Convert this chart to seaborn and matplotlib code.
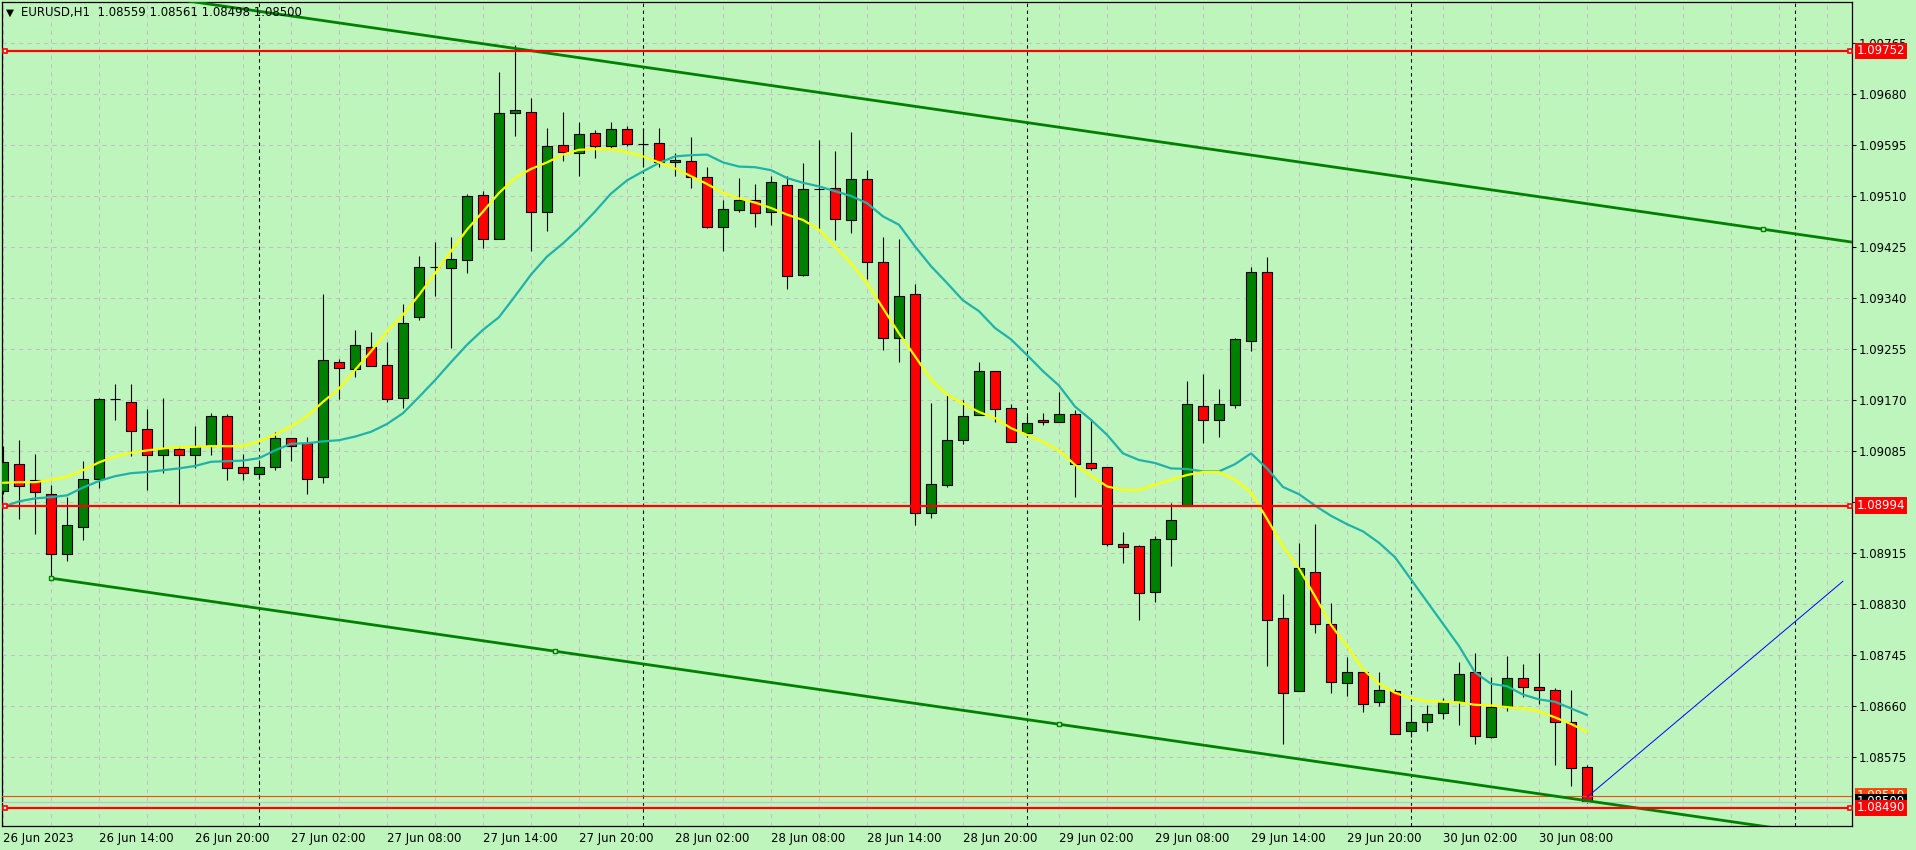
import matplotlib
matplotlib.use("Agg")
import matplotlib.pyplot as plt
import matplotlib.transforms as mtransforms
import seaborn as sns
import numpy as np
import pandas as pd

# EURUSD H1 candles, 26 Jun 2023 08:00 .. 30 Jun 2023 11:00
opens = [1.09018, 1.09063, 1.09037, 1.09014, 1.08913, 1.08959, 1.09038, 1.09171, 1.09166, 1.09121,
         1.09079, 1.09088, 1.09079, 1.09094, 1.09143, 1.09058, 1.09046, 1.09059, 1.09106, 1.09098,
         1.09041, 1.09234, 1.09221, 1.09258, 1.09228, 1.09173, 1.09308, 1.09391, 1.09390, 1.09403,
         1.09511, 1.09439, 1.09648, 1.09650, 1.09484, 1.09595, 1.09581, 1.09615, 1.09593, 1.09621,
         1.09596, 1.09598, 1.09566, 1.09568, 1.09541, 1.09458, 1.09486, 1.09503, 1.09483, 1.09528,
         1.09378, 1.09522, 1.09523, 1.09470, 1.09538, 1.09400, 1.09273, 1.09346, 1.08981, 1.09028,
         1.09103, 1.09145, 1.09218, 1.09156, 1.09115, 1.09136, 1.09133, 1.09146, 1.09065, 1.09058,
         1.08930, 1.08926, 1.08850, 1.08938, 1.08994, 1.09160, 1.09137, 1.09162, 1.09269, 1.09383,
         1.08807, 1.08685, 1.08884, 1.08797, 1.08699, 1.08717, 1.08666, 1.08685, 1.08619, 1.08634,
         1.08648, 1.08667, 1.08716, 1.08608, 1.08659, 1.08707, 1.08692, 1.08687, 1.08633, 1.08559]
highs = [1.09093, 1.09103, 1.09080, 1.09028, 1.09009, 1.09068, 1.09173, 1.09197, 1.09197, 1.09155,
         1.09173, 1.09094, 1.09127, 1.09148, 1.09146, 1.09080, 1.09070, 1.09116, 1.09106, 1.09108,
         1.09347, 1.09238, 1.09287, 1.09283, 1.09267, 1.09330, 1.09410, 1.09434, 1.09441, 1.09513,
         1.09518, 1.09717, 1.09762, 1.09673, 1.09623, 1.09650, 1.09634, 1.09620, 1.09634, 1.09626,
         1.09623, 1.09623, 1.09581, 1.09609, 1.09559, 1.09503, 1.09540, 1.09530, 1.09544, 1.09544,
         1.09565, 1.09603, 1.09585, 1.09617, 1.09553, 1.09442, 1.09439, 1.09364, 1.09165, 1.09179,
         1.09170, 1.09234, 1.09218, 1.09164, 1.09143, 1.09149, 1.09184, 1.09154, 1.09139, 1.09058,
         1.08950, 1.08928, 1.08943, 1.08998, 1.09201, 1.09213, 1.09188, 1.09273, 1.09392, 1.09409,
         1.08846, 1.08932, 1.08963, 1.08831, 1.08742, 1.08717, 1.08716, 1.08689, 1.08662, 1.08662,
         1.08674, 1.08733, 1.08748, 1.08708, 1.08744, 1.08730, 1.08749, 1.08690, 1.08687, 1.08561]
lows = [1.09014, 1.08972, 1.08947, 1.08873, 1.08902, 1.08936, 1.09023, 1.09136, 1.09076, 1.09020,
        1.09049, 1.08997, 1.09057, 1.09079, 1.09036, 1.09036, 1.09038, 1.09054, 1.09069, 1.09014,
        1.09032, 1.09171, 1.09209, 1.09226, 1.09167, 1.09156, 1.09304, 1.09343, 1.09257, 1.09381,
        1.09424, 1.09438, 1.09610, 1.09418, 1.09452, 1.09568, 1.09544, 1.09574, 1.09590, 1.09593,
        1.09559, 1.09559, 1.09543, 1.09523, 1.09456, 1.09418, 1.09483, 1.09458, 1.09461, 1.09355,
        1.09376, 1.09454, 1.09437, 1.09449, 1.09372, 1.09254, 1.09233, 1.08962, 1.08974, 1.09025,
        1.09096, 1.09145, 1.09133, 1.09100, 1.09110, 1.09129, 1.09133, 1.09008, 1.09053, 1.08926,
        1.08899, 1.08803, 1.08834, 1.08893, 1.08993, 1.09098, 1.09108, 1.09157, 1.09252, 1.08726,
        1.08596, 1.08685, 1.08782, 1.08681, 1.08676, 1.08650, 1.08660, 1.08614, 1.08608, 1.08618,
        1.08638, 1.08628, 1.08596, 1.08606, 1.08651, 1.08675, 1.08663, 1.08561, 1.08526, 1.08498]
closes = [1.09067, 1.09026, 1.09016, 1.08914, 1.08961, 1.09038, 1.09172, 1.09171, 1.09119, 1.09078,
          1.09089, 1.09079, 1.09094, 1.09143, 1.09057, 1.09048, 1.09059, 1.09106, 1.09094, 1.09039,
          1.09236, 1.09223, 1.09261, 1.09226, 1.09171, 1.09299, 1.09391, 1.09391, 1.09405, 1.09510,
          1.09439, 1.09648, 1.09653, 1.09484, 1.09593, 1.09583, 1.09613, 1.09593, 1.09621, 1.09596,
          1.09596, 1.09566, 1.09570, 1.09541, 1.09458, 1.09488, 1.09503, 1.09481, 1.09533, 1.09376,
          1.09521, 1.09522, 1.09471, 1.09538, 1.09400, 1.09273, 1.09343, 1.08981, 1.09030, 1.09103,
          1.09144, 1.09218, 1.09155, 1.09100, 1.09131, 1.09133, 1.09146, 1.09063, 1.09056, 1.08930,
          1.08925, 1.08848, 1.08938, 1.08970, 1.09163, 1.09137, 1.09163, 1.09271, 1.09383, 1.08804,
          1.08682, 1.08890, 1.08797, 1.08700, 1.08717, 1.08664, 1.08687, 1.08614, 1.08634, 1.08647,
          1.08667, 1.08714, 1.08610, 1.08659, 1.08707, 1.08692, 1.08687, 1.08633, 1.08557, 1.08500]

# the two moving averages (yellow fast, teal slow)
ma_fast = [1.09032, 1.09033, 1.09033, 1.09037, 1.09042, 1.09053, 1.09066, 1.09076, 1.09082, 1.09086,
           1.09089, 1.09091, 1.09092, 1.09093, 1.09093, 1.09093, 1.09101, 1.09112, 1.09126, 1.09143,
           1.09167, 1.09189, 1.09220, 1.09251, 1.09284, 1.09312, 1.09345, 1.09381, 1.09418, 1.09454,
           1.09484, 1.09515, 1.09540, 1.09555, 1.09566, 1.09579, 1.09587, 1.09588, 1.09588, 1.09583,
           1.09576, 1.09566, 1.09556, 1.09543, 1.09530, 1.09515, 1.09506, 1.09499, 1.09490, 1.09479,
           1.09470, 1.09454, 1.09426, 1.09398, 1.09365, 1.09323, 1.09281, 1.09243, 1.09204, 1.09179,
           1.09164, 1.09150, 1.09140, 1.09123, 1.09112, 1.09100, 1.09086, 1.09062, 1.09044, 1.09026,
           1.09020, 1.09020, 1.09029, 1.09037, 1.09045, 1.09050, 1.09050, 1.09037, 1.09016, 1.08972,
           1.08926, 1.08889, 1.08843, 1.08795, 1.08760, 1.08721, 1.08697, 1.08682, 1.08673, 1.08668,
           1.08667, 1.08666, 1.08662, 1.08661, 1.08658, 1.08656, 1.08651, 1.08641, 1.08630, 1.08617]
ma_slow = [1.08992, 1.09001, 1.09006, 1.09008, 1.09011, 1.09024, 1.09035, 1.09043, 1.09048, 1.09050,
           1.09053, 1.09056, 1.09060, 1.09067, 1.09068, 1.09069, 1.09073, 1.09086, 1.09097, 1.09098,
           1.09101, 1.09103, 1.09109, 1.09117, 1.09130, 1.09148, 1.09175, 1.09203, 1.09233, 1.09262,
           1.09287, 1.09308, 1.09343, 1.09379, 1.09409, 1.09431, 1.09456, 1.09484, 1.09514, 1.09536,
           1.09551, 1.09565, 1.09576, 1.09578, 1.09579, 1.09566, 1.09559, 1.09558, 1.09553, 1.09540,
           1.09532, 1.09526, 1.09518, 1.09510, 1.09498, 1.09476, 1.09462, 1.09426, 1.09393, 1.09365,
           1.09336, 1.09318, 1.09290, 1.09271, 1.09245, 1.09218, 1.09194, 1.09159, 1.09137, 1.09112,
           1.09081, 1.09070, 1.09065, 1.09056, 1.09055, 1.09051, 1.09051, 1.09063, 1.09081, 1.09056,
           1.09025, 1.09013, 1.08994, 1.08977, 1.08963, 1.08951, 1.08932, 1.08908, 1.08871, 1.08834,
           1.08797, 1.08760, 1.08716, 1.08697, 1.08693, 1.08679, 1.08671, 1.08667, 1.08656, 1.08645]

y_ticks = [1.09765, 1.09680, 1.09595, 1.09510, 1.09425, 1.09340, 1.09255, 1.09170,
           1.09085, 1.09000, 1.08915, 1.08830, 1.08745, 1.08660, 1.08575]
levels = [1.09752, 1.08994, 1.08490]
ask_price = 1.08510
bid_price = 1.08500
header = "EURUSD,H1  1.08559 1.08561 1.08498 1.08500"

# channel (bar index, price) end points and its handle points
chan_low_x = [3, 115.6]
chan_low_y = [1.08873, 1.08438]
chan_high_x = [3, 115.6]
chan_high_y = [1.09868, 1.09433]
chan_marks_x = [3, 34.5, 66, 110]
chan_marks_y = [1.08873, 1.08751, 1.08630, 1.09455]
# thin blue trend line
trend_x = [99, 115]
trend_y = [1.08508, 1.08868]

BG = "#BEF5BC"
GRID = "#C8BCC8"
FS = 8.5

sns.set_theme(style="white")
plt.rcParams["font.family"] = ["DejaVu Sans"]
plt.rcParams["lines.scale_dashes"] = False

bars = np.arange(len(opens))
times = pd.date_range("2023-06-26 08:00", periods=len(opens), freq="h")
df = pd.DataFrame({"bar": bars, "open": opens, "high": highs, "low": lows, "close": closes,
                   "ma_fast": ma_fast, "ma_slow": ma_slow})

fig = plt.figure(figsize=(19.16, 8.5), dpi=100, facecolor=BG)
ax = fig.add_axes([2 / 1916, 24 / 850, 1850 / 1916, 824 / 850])
ax.set_facecolor(BG)
ax.set_xlim(-0.0625, 115.5625)
ax.set_ylim(1.08460, 1.098333)

# grid: horizontal at price ticks, vertical every 3 bars
for p in y_ticks:
    ax.axhline(p, color=GRID, lw=0.75, ls=(0, (3, 3)), zorder=0.5)
for b in range(0, 116, 3):
    ax.axvline(b, color=GRID, lw=0.75, ls=(0, (3, 3)), zorder=0.5)
# day separators
for b in range(16, 116, 24):
    ax.axvline(b, color="black", lw=0.75, ls=(0, (2.5, 2.5)), zorder=0.8)

# candles
up = df["close"] >= df["open"]
ax.vlines(df["bar"], df["low"], df["high"], color="black", lw=0.8, zorder=2)
ax.bar(df["bar"], df["close"] - df["open"], bottom=df["open"], width=0.64,
       color=np.where(up, "#008000", "#FF0000"), edgecolor="black", linewidth=0.8, zorder=3)

# moving averages
sns.lineplot(data=df, x="bar", y="ma_slow", color="#20B2AA", lw=1.6, ax=ax, zorder=4)
sns.lineplot(data=df, x="bar", y="ma_fast", color="#FFFF00", lw=1.6, ax=ax, zorder=4)

# bid / ask lines
ax.axhline(bid_price, color="#C0C0C0", lw=0.8, zorder=4)
ax.axhline(ask_price, color="#FF4500", lw=0.8, zorder=4)

# channel
ax.plot(chan_low_x, chan_low_y, color="#008000", lw=2, zorder=5, solid_capstyle="butt")
ax.plot(chan_high_x, chan_high_y, color="#008000", lw=2, zorder=5, solid_capstyle="butt")
ax.plot(chan_marks_x, chan_marks_y, ls="none", marker="s", ms=3.5, mfc=BG, mec="#008000",
        mew=1, zorder=6)

# trend line
ax.plot(trend_x, trend_y, color="#0000FF", lw=0.7, zorder=5)

# horizontal levels
for p in levels:
    ax.axhline(p, color="#FF0000", lw=1.6, zorder=6)
    ax.plot([0.125, 115.44], [p, p], ls="none", marker="s", ms=3.5, mfc="white",
            mec="#FF0000", mew=1.2, zorder=7, clip_on=False)

# axes and ticks
ax.yaxis.tick_right()
ax.set_yticks(y_ticks)
ax.set_yticklabels([f"{p:.5f}" for p in y_ticks])
xt = list(range(0, len(opens), 6))
ax.set_xticks(xt)
ax.set_xticklabels([times[0].strftime("%d %b %Y")] +
                   [times[i].strftime("%d %b %H:%M") for i in xt[1:]])
for lab in ax.get_xticklabels():
    lab.set_ha("left")
ax.tick_params(axis="both", direction="out", length=3, width=0.75, color="black",
               labelsize=FS, labelcolor="black", pad=1.5)
ax.set_xlabel("")
ax.set_ylabel("")
for s in ax.spines.values():
    s.set_color("black")
    s.set_linewidth(0.9)

# price boxes on the right
trans = mtransforms.blended_transform_factory(ax.transAxes, ax.transData)
box_items = [(ask_price, "#FF4500", 11), (bid_price, "black", 12)] + \
            [(p, "#FF0000", 13) for p in levels]
for p, col, z in box_items:
    ax.text(1.0027, p, f"{p:.5f}", transform=trans, ha="left", va="center", fontsize=FS,
            color="white", zorder=z, clip_on=False,
            bbox=dict(boxstyle="square,pad=0.15", fc=col, ec="none"))

# header
fig.text(6 / 1916, 1 - 12.5 / 850, "\u25bc", fontsize=7.5, color="black", va="center", ha="left")
fig.text(21 / 1916, 1 - 12.5 / 850, header, fontsize=FS, color="black", va="center", ha="left",
         zorder=20)

fig.savefig("out.png", dpi=100, facecolor=BG)
